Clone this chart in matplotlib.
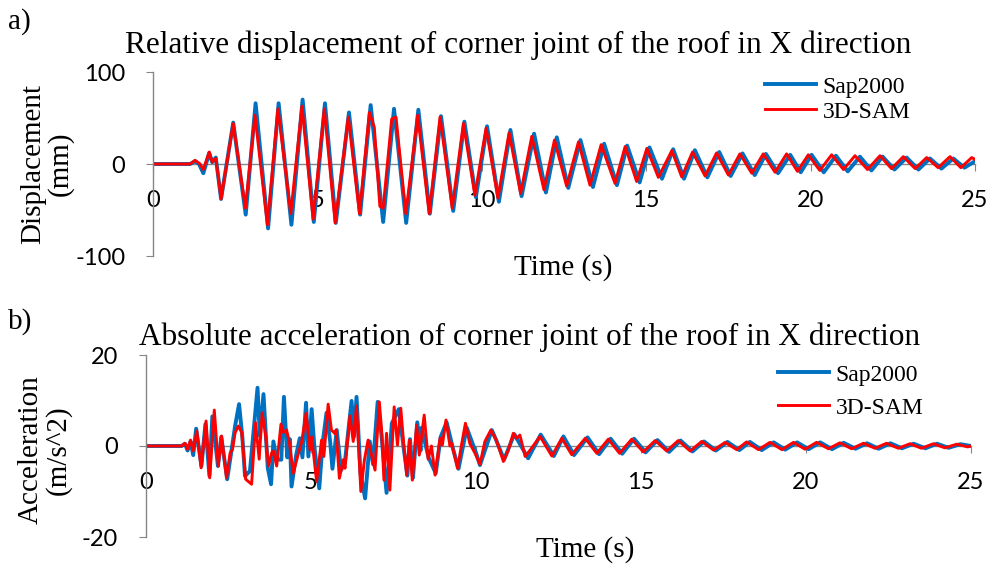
import matplotlib.pyplot as plt

plt.rcParams['axes.unicode_minus'] = False

# --- a) relative displacement (mm), extrema ---
t_disp_sap = [0, 1.13, 1.28, 1.40, 1.53, 1.71, 1.80, 1.91, 2.07, 2.44, 2.82, 3.12, 3.50, 3.82,
              4.21, 4.55, 4.89, 5.23, 5.56, 5.96, 6.30, 6.62, 7.00, 7.33, 7.70, 8.07, 8.42,
              8.76, 9.13, 9.47, 9.82, 10.16, 10.52, 10.87, 11.21, 11.59, 11.95, 12.28, 12.63,
              13.00, 13.38, 13.72, 14.11, 14.42, 14.80, 15.10, 15.48, 15.82, 16.15, 16.48,
              16.86, 17.22, 17.57, 17.93, 18.30, 18.64, 19.01, 19.38, 19.70, 20.03, 20.40,
              20.77, 21.13, 21.50, 21.85, 22.19, 22.55, 22.92, 23.28, 23.63, 23.98, 24.34,
              24.68, 25.0]
disp_sap = [0, 0, 3, 0, -10, 12, 2, 7, -38, 45, -55, 66, -70, 66, -66, 70, -63, 66, -64, 56,
            -55, 64, -63, 60, -64, 59, -54, 52, -51, 46, -36, 41, -41, 37, -35, 33, -31, 29,
            -26, 26, -25, 22, -23, 20, -20, 18, -16, 16, -16, 15, -14.5, 13, -13, 11.5, -12,
            11, -10, 10, -9, 10, -9, 9, -8, 8, -7, 8, -6, 7, -6, 6, -5, 6, -4, 3]

t_disp_sam = [0, 1.13, 1.28, 1.43, 1.53, 1.71, 1.80, 1.91, 2.07, 2.44, 2.81, 3.10, 3.48, 3.80,
              4.19, 4.53, 4.87, 5.21, 5.54, 5.94, 6.28, 6.58, 6.73, 6.90, 7.00, 7.26, 7.39,
              7.69, 8.05, 8.40, 8.73, 9.10, 9.44, 9.79, 10.13, 10.49, 10.83, 11.18, 11.52,
              11.89, 12.21, 12.58, 12.94, 13.29, 13.63, 14.05, 14.36, 14.71, 15.02, 15.37,
              15.78, 16.08, 16.41, 16.79, 17.14, 17.50, 17.85, 18.21, 18.56, 18.92, 19.27,
              19.60, 19.93, 20.28, 20.64, 21.00, 21.35, 21.73, 22.11, 22.46, 22.82, 23.18,
              23.53, 23.88, 24.24, 24.57, 24.90, 25.0]
disp_sam = [0, 0, 4, 0, -6, 13, 2, 6, -38, 44, -48, 53, -66, 60, -54, 63, -60, 60, -64, 51,
            -54, 56, 40, -46, -48, 49, 51, -54, 53, -54, 51, -48, 44, -34, 39, -37, 34, -32,
            30, -28, 26, -24, 24, -23, 21, -21, 19, -19, 17, -14.5, 14.5, -14, 13, -13, 12,
            -12, 11, -10, 11, -9, 11, -8, 10, -7, 10, -6, 9, -6, 9, -5, 8, -5, 7, -4, 8, -4,
            7, 5]

# --- b) absolute acceleration (m/s^2) ---
t_acc_sap = [0, 1.08, 1.18, 1.26, 1.35, 1.43, 1.52, 1.68, 1.80, 1.92, 2.01, 2.18, 2.28, 2.46,
             2.58, 2.70, 2.82, 2.92, 3.00, 3.15, 3.38, 3.45, 3.56, 3.69, 3.79, 3.86, 3.96,
             4.10, 4.18, 4.28, 4.36, 4.41, 4.55, 4.66, 4.74, 4.85, 4.92, 5.02, 5.10, 5.25,
             5.35, 5.47, 5.58, 5.65, 5.78, 5.91, 6.02, 6.23, 6.30, 6.38, 6.50, 6.64, 6.78,
             6.88, 7.02, 7.14, 7.29, 7.45, 7.66, 7.80, 7.92, 8.00, 8.09, 8.22, 8.32, 8.35,
             8.56, 8.78, 8.93, 9.11, 9.30, 9.47, 9.72, 10.00, 10.12, 10.48, 10.60, 10.85,
             11.16, 11.58, 11.96, 12.36, 12.65, 12.97, 13.38, 13.73, 14.08, 14.43, 14.79,
             15.14, 15.50, 15.85, 16.20, 16.56, 16.91, 17.27, 17.62, 17.98, 18.30, 18.66,
             19.02, 19.37, 19.73, 20.08, 20.43, 20.79, 21.14, 21.50, 21.85, 22.20, 22.56,
             22.91, 23.26, 23.62, 23.97, 24.32, 24.68, 25.0]
acc_sap = [0, 0, 0.5, -1.0, 1.0, -2.0, 3.8, -4.4, 4.8, -6.5, 6.5, -4.4, 2.0, -7.3, -1.5, 4.4,
           9.2, 2.0, -6.6, -5.5, 12.8, 2.2, 11.4, -4.8, -8.4, 1.0, -3.0, -3.0, 10.8, -2.5, 1.5,
           -8.9, -2.0, 1.7, -2.5, 9.5, -2.3, 8.1, 0, -9.3, 0.5, 7.3, 1.0, -5.0, 3.5, -5.3,
           -4.0, 9.9, 2.0, 10.8, -6.0, -11.5, 1.0, -4.0, 9.7, 2.0, -10.3, 5.0, 8.1, 0, -6.5,
           1.5, -7.0, 5.2, -1.0, 4.0, -2.5, -6.0, 2.0, 5.2, -0.5, -5.0, 4.0, -1.5, -4.2, 3.5,
           1.5, -3.0, 2.6, -2.7, 2.5, -2.2, 2.1, -2.0, 1.9, -1.8, 1.6, -1.7, 1.6, -1.4, 1.3,
           -1.3, 1.2, -1.2, 1.0, -1.0, 0.9, -0.9, 0.9, -0.9, 0.8, -0.8, 0.8, -0.7, 0.8, -0.7,
           0.7, -0.6, 0.6, -0.6, 0.6, -0.5, 0.5, -0.5, 0.5, -0.4, 0.4, 0]

t_acc_sam = [0, 1.08, 1.18, 1.26, 1.35, 1.43, 1.54, 1.67, 1.82, 1.93, 2.07, 2.19, 2.29, 2.44,
             2.55, 2.62, 2.70, 2.80, 2.90, 3.02, 3.20, 3.32, 3.43, 3.52, 3.62, 3.71, 3.81,
             3.86, 3.96, 4.09, 4.16, 4.26, 4.34, 4.46, 4.54, 4.62, 4.72, 4.85, 4.97, 5.02,
             5.17, 5.32, 5.39, 5.52, 5.62, 5.73, 5.76, 5.86, 5.98, 6.03, 6.18, 6.28, 6.38,
             6.51, 6.62, 6.73, 6.84, 6.94, 7.07, 7.14, 7.21, 7.29, 7.39, 7.52, 7.62, 7.72,
             7.82, 7.90, 7.98, 8.07, 8.20, 8.28, 8.43, 8.55, 8.65, 8.76, 8.91, 8.98, 9.09,
             9.21, 9.26, 9.31, 9.44, 9.56, 9.68, 9.81, 9.97, 10.12, 10.27, 10.45, 10.60,
             10.70, 10.83, 10.98, 11.13, 11.23, 11.33, 11.49, 11.64, 11.94, 12.30, 12.60,
             12.90, 13.31, 13.66, 14.01, 14.35, 14.72, 15.07, 15.43, 15.78, 16.13, 16.49,
             16.84, 17.20, 17.55, 17.90, 18.20, 18.56, 18.91, 19.27, 19.62, 19.97, 20.32,
             20.68, 21.03, 21.38, 21.74, 22.09, 22.44, 22.80, 23.15, 23.50, 23.86, 24.21,
             24.57, 24.90, 25.0]
acc_sam = [0, 0, 0.6, -0.7, 1.3, -1.1, 3.3, -4.8, 5.5, -7.0, 7.9, -4.4, 2.2, -7.0, -1.5, -0.8,
           2.9, 4.4, 3.0, -7.3, -8.4, 5.1, -2.9, 7.3, 2.6, -4.4, -1.5, -1.1, -4.4, 4.8, 3.0,
           3.5, 1.0, -6.0, -3.8, -1.6, 1.0, 7.2, -0.9, 2.0, -7.8, 1.3, -2.3, 9.2, 3.5, 2.7,
           3.5, -7.1, -3.0, -4.9, 6.6, 1.0, 8.8, -10.0, -3.0, 1.3, -2.2, -5.3, 9.7, 3.5, -7.5,
           2.8, -9.7, 8.6, 0.2, 8.3, -0.5, -6.4, 1.3, -7.5, 4.6, -2.0, 6.8, -2.9, 0, -6.4,
           1.7, 0.2, 5.7, 0, 0.6, -0.9, -4.9, 0.2, 5.0, 0.6, -1.6, -4.0, 1.0, 3.5, 1.5, -0.5,
           -3.4, -0.9, 2.8, 1.7, 2.4, -2.3, -0.9, 2.1, -2.2, 1.7, -1.9, 1.7, -1.6, 1.5, -1.6,
           1.5, -1.3, 1.2, -1.1, 1.2, -1.1, 1.0, -0.9, 0.8, -0.8, 0.9, -0.8, 0.8, -0.8, 0.8,
           -0.7, 0.8, -0.6, 0.7, -0.6, 0.6, -0.5, 0.6, -0.5, 0.5, -0.5, 0.5, -0.4, 0.4, -0.2, 0]

xticks = [0, 5, 10, 15, 20, 25]
BLUE = '#0070C0'
RED = '#FF0000'
GRAY = '#868686'
SERIF = 'Liberation Serif'
SANS = 'Lato'

W, H = 987, 568
fig = plt.figure(figsize=(W / 100, H / 100), dpi=100)


def panel(rect, ylim, yticks, t1, y1, t2, y2):
    ax = fig.add_axes(rect)
    ax.plot(t1, y1, color=BLUE, lw=2.8, label='Sap2000', solid_joinstyle='round')
    ax.plot(t2, y2, color=RED, lw=2.1, label='3D-SAM', solid_joinstyle='round')
    ax.set_xlim(0, 25)
    ax.set_ylim(*ylim)
    ax.set_xticks(xticks)
    ax.set_yticks(yticks)
    for s in ['top', 'right']:
        ax.spines[s].set_visible(False)
    ax.spines['bottom'].set_position(('data', 0))
    ax.spines['bottom'].set_zorder(0)
    for s in ['left', 'bottom']:
        ax.spines[s].set_color(GRAY)
        ax.spines[s].set_linewidth(1)
    ax.tick_params(axis='y', direction='out', length=5, color=GRAY, pad=15, labelsize=17)
    ax.tick_params(axis='x', direction='out', length=5, color=GRAY, pad=14, labelsize=17)
    for lab in ax.get_xticklabels() + ax.get_yticklabels():
        lab.set_family(SANS)
    return ax


ax1 = panel([153 / W, 1 - 256 / H, 822 / W, 184 / H], (-100, 100), [-100, 0, 100],
            t_disp_sap, disp_sap, t_disp_sam, disp_sam)
ax2 = panel([146 / W, 1 - 537 / H, 825 / W, 182 / H], (-20, 20), [-20, 0, 20],
            t_acc_sap, acc_sap, t_acc_sam, acc_sam)

# titles, labels
fig.text(518 / W, 1 - 45 / H, 'Relative displacement of corner joint of the roof in X direction',
         ha='center', va='center', family=SERIF, fontsize=22.5)
fig.text(530 / W, 1 - 337 / H, 'Absolute acceleration of corner joint of the roof in X direction',
         ha='center', va='center', family=SERIF, fontsize=22.5)
fig.text(8 / W, 1 - 22 / H, 'a)', ha='left', va='center', family=SERIF, fontsize=21)
fig.text(8 / W, 1 - 322 / H, 'b)', ha='left', va='center', family=SERIF, fontsize=21)
fig.text(47 / W, 1 - 164 / H, 'Displacement\n(mm)', rotation=90, ha='center', va='center',
         family=SERIF, fontsize=21, linespacing=1.05, multialignment='center')
fig.text(45 / W, 1 - 450 / H, 'Acceleration\n(m/s^2)', rotation=90, ha='center', va='center',
         family=SERIF, fontsize=21, linespacing=1.05, multialignment='center')
fig.text(563 / W, 1 - 268 / H, 'Time (s)', ha='center', va='center', family=SERIF, fontsize=21)
fig.text(585 / W, 1 - 550 / H, 'Time (s)', ha='center', va='center', family=SERIF, fontsize=21)

# legends
ax1.legend(loc='upper left', bbox_to_anchor=(765 / W, 1 - 76 / H), bbox_transform=fig.transFigure,
           frameon=False, prop={'family': SERIF, 'size': 17}, handlelength=2.15,
           handletextpad=0.3, labelspacing=0.15, borderpad=0, borderaxespad=0)
ax2.legend(loc='upper left', bbox_to_anchor=(778 / W, 1 - 364 / H), bbox_transform=fig.transFigure,
           frameon=False, prop={'family': SERIF, 'size': 17}, handlelength=2.15,
           handletextpad=0.3, labelspacing=0.49, borderpad=0, borderaxespad=0)

fig.savefig('out.png', dpi=100)
